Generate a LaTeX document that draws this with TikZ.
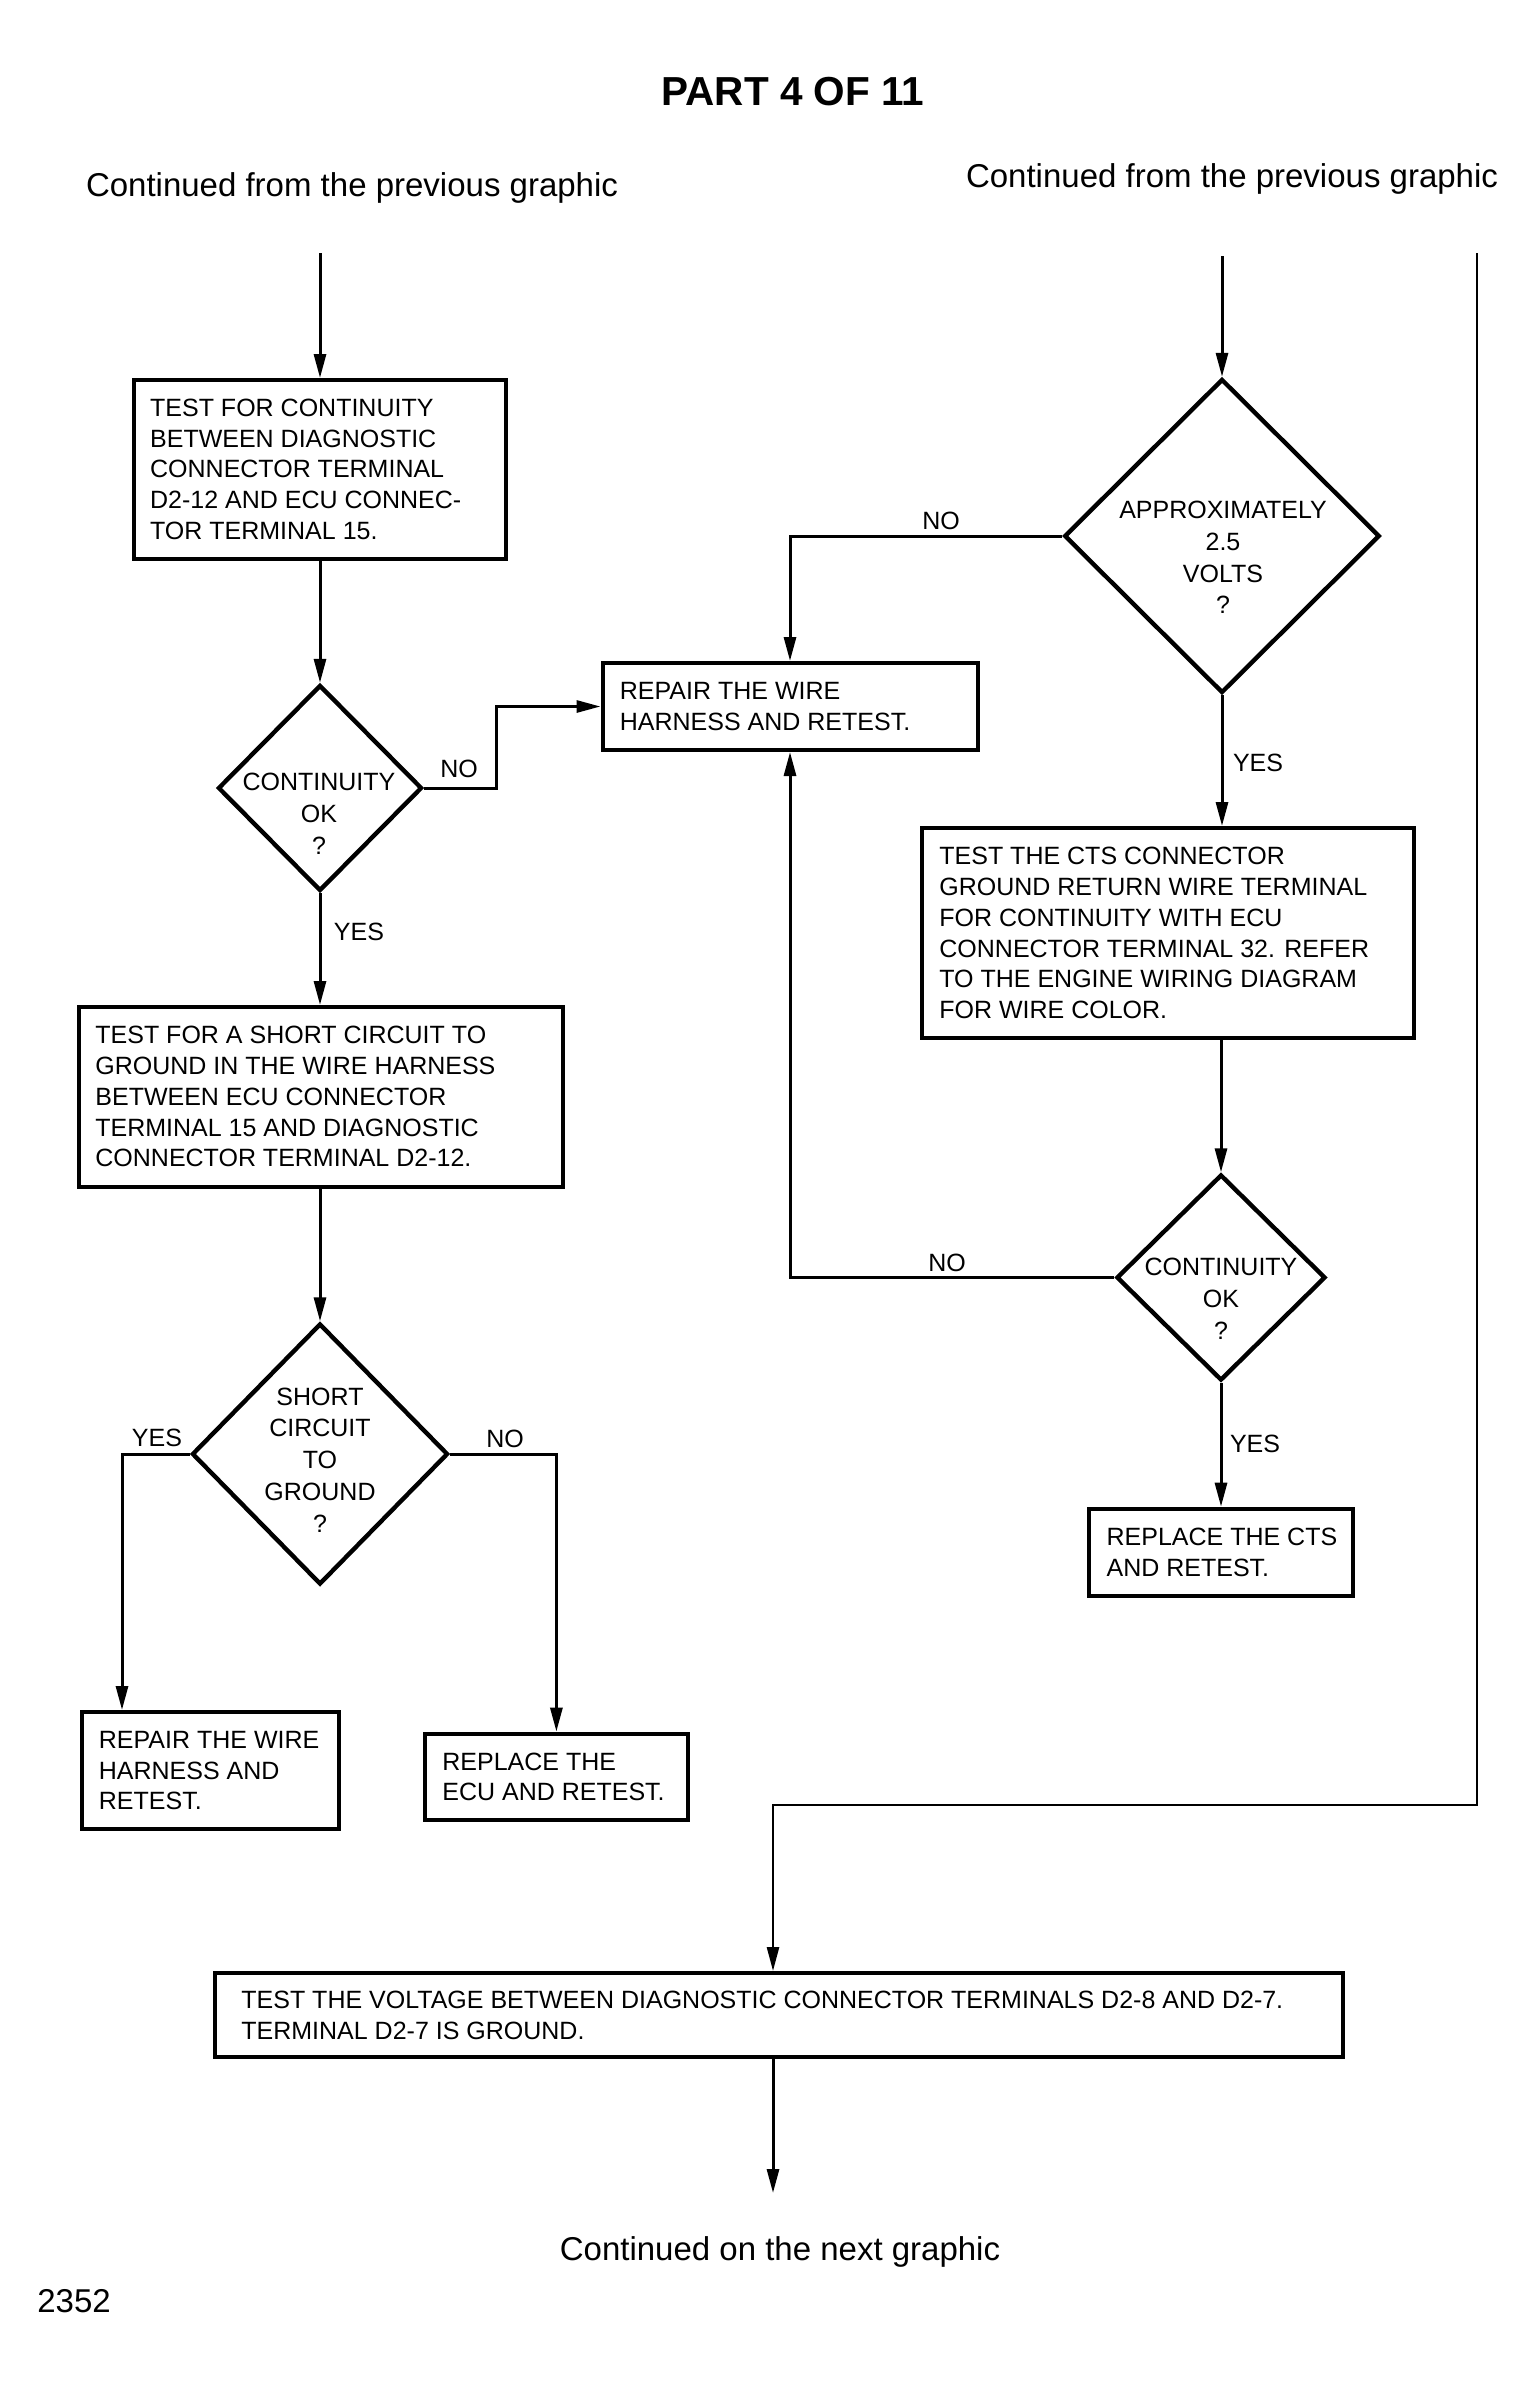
\documentclass[tikz,border=0pt]{standalone}
\usepackage{fontspec}
\setmainfont{Liberation Sans}
\usetikzlibrary{shapes.geometric,arrows.meta}
\tikzset{
  box/.style={draw, line width=2pt, inner sep=0pt},
  btxt/.style={anchor=west, align=left, inner sep=0pt, font=\fontsize{12.5}{15.4}\selectfont},
  dtxt/.style={align=center, inner sep=0pt, font=\fontsize{12.5}{15.9}\selectfont},
  dia/.style={draw, shape=diamond, line width=2.2pt, inner sep=0pt},
  lbl/.style={inner sep=0pt, font=\fontsize{12.5}{15}\selectfont},
  cont/.style={inner sep=0pt, anchor=base, font=\fontsize{16.5}{20}\selectfont},
  arr/.style={line width=1.5pt, -{Triangle[length=12pt,width=6pt]}},
  ln/.style={line width=1.5pt},
}
\begin{document}
\begin{tikzpicture}[x=0.5pt,y=-0.5pt]
\fill[white] (0,0) rectangle (1533,2387);
\useasboundingbox (0,0) rectangle (1533,2387);

% headings
\node[inner sep=0pt, font=\bfseries\fontsize{20.25}{24}\selectfont] (title) at (793,91.5) {PART 4 OF 11};
\node[cont] (contL) at (352,196) {Continued from the previous graphic};
\node[cont] (contR) at (1232,187) {Continued from the previous graphic};
\node[cont] (contB) at (780,2260) {Continued on the next graphic};
\node[cont, anchor=base west] (fig) at (37,2312) {2352};

% boxes
\node[box, minimum width=186.25pt, minimum height=89.3pt] (b1) at (320,469.3) {};
\node[btxt] (b1t) at ([xshift=9pt]b1.west) {TEST FOR CONTINUITY\\BETWEEN DIAGNOSTIC\\CONNECTOR TERMINAL\\D2-12 AND ECU CONNEC-\\TOR TERMINAL 15.};

\node[box, minimum width=187.5pt, minimum height=43.5pt] (r1) at (790,706.5) {};
\node[btxt] (r1t) at ([xshift=9.5pt]r1.west) {REPAIR THE WIRE\\HARNESS AND RETEST.};

\node[box, minimum width=245.85pt, minimum height=105pt] (cts) at (1167.85,933) {};
\node[btxt] (ctst) at ([xshift=9.5pt]cts.west) {TEST THE CTS CONNECTOR\\GROUND RETURN WIRE TERMINAL\\FOR CONTINUITY WITH ECU\\CONNECTOR TERMINAL 32. REFER\\TO THE ENGINE WIRING DIAGRAM\\FOR WIRE COLOR.};

\node[box, minimum width=242pt, minimum height=89.75pt] (b3) at (321,1096.75) {};
\node[btxt] (b3t) at ([xshift=9pt]b3.west) {TEST FOR A SHORT CIRCUIT TO\\GROUND IN THE WIRE HARNESS\\BETWEEN ECU CONNECTOR\\TERMINAL 15 AND DIAGNOSTIC\\CONNECTOR TERMINAL D2-12.};

\node[box, minimum width=128.5pt, minimum height=58.5pt] (r2) at (210.5,1770.5) {};
\node[btxt] (r2t) at ([xshift=9.25pt]r2.west) {REPAIR THE WIRE\\HARNESS AND\\RETEST.};

\node[box, minimum width=131.4pt, minimum height=43.2pt] (ecu) at (556.4,1776.8) {};
\node[btxt] (ecut) at ([xshift=9.5pt]ecu.west) {REPLACE THE\\ECU AND RETEST.};

\node[box, minimum width=131.75pt, minimum height=43.45pt] (rcts) at (1221,1552.15) {};
\node[btxt] (rctst) at ([xshift=9.5pt]rcts.west) {REPLACE THE CTS\\AND RETEST.};

\node[box, minimum width=564pt, minimum height=42pt] (big) at (779,2015) {};
\node[btxt] (bigt) at ([xshift=14pt]big.west) {TEST THE VOLTAGE BETWEEN DIAGNOSTIC CONNECTOR TERMINALS D2-8 AND D2-7.\\TERMINAL D2-7 IS GROUND.};

% diamonds
\node[dia, minimum width=102pt, minimum height=103pt] (d1) at (320,788) {};
\node[dtxt] (d1t) at (319,814) {CONTINUITY\\OK\\?};
\node[dia, minimum width=157.75pt, minimum height=157pt] (d2) at (1222,536) {};
\node[dtxt] (d2t) at (1223,557.5) {APPROXIMATELY\\2.5\\VOLTS\\?};
\node[dia, minimum width=128pt, minimum height=130.5pt] (d3) at (320,1454) {};
\node[dtxt] (d3t) at (320,1460) {SHORT\\CIRCUIT\\TO\\GROUND\\?};
\node[dia, minimum width=104.5pt, minimum height=103pt] (d4) at (1221,1277.5) {};
\node[dtxt] (d4t) at (1221,1299) {CONTINUITY\\OK\\?};

% connector coordinates
\coordinate (s1) at (320,253);
\coordinate (s2) at (1222,256);
\coordinate (k1) at (496,706.5);
\coordinate (k3) at (122,1454);
\coordinate (rtop) at (1477,253);
\coordinate (rbot) at (1477,1805);
\coordinate (k5) at (773,1805);
\coordinate (kend) at (773,2193);

% connectors
\draw[arr] (s1) -- (b1.north);
\draw[arr] (b1.south) -- (d1.north);
\draw[arr] (d1.east) -| (k1) -- (r1.west);
\draw[arr] (d1.south) -- (d1.south |- b3.north);
\draw[arr] (b3.south -| d3.north) -- (d3.north);
\draw[arr] (d3.west) -- (k3) -- (k3 |- r2.north);
\draw[arr] (d3.east) -| (ecu.north);
\draw[arr] (s2) -- (d2.north);
\draw[arr] (d2.west) -| (r1.north);
\draw[arr] (d2.south) -- (d2.south |- cts.north);
\draw[arr] (cts.south -| d4.north) -- (d4.north);
\draw[arr] (d4.west) -| (r1.south);
\draw[arr] (d4.south) -- (rcts.north);
\draw[arr, line width=1.3pt] (rtop) -- (rbot) -- (k5) -- (k5 |- big.north);
\draw[arr] (k5 |- big.south) -- (kend);

% branch labels
\node[lbl] (no1) at (459,769) {NO};
\node[lbl] (yes1) at (359,932) {YES};
\node[lbl] (no2) at (941,521) {NO};
\node[lbl] (yes2) at (1258,763) {YES};
\node[lbl] (no4) at (947,1263) {NO};
\node[lbl] (yes4) at (1255,1444) {YES};
\node[lbl] (yes3) at (157,1438) {YES};
\node[lbl] (no3) at (505,1439) {NO};
\end{tikzpicture}
\end{document}
